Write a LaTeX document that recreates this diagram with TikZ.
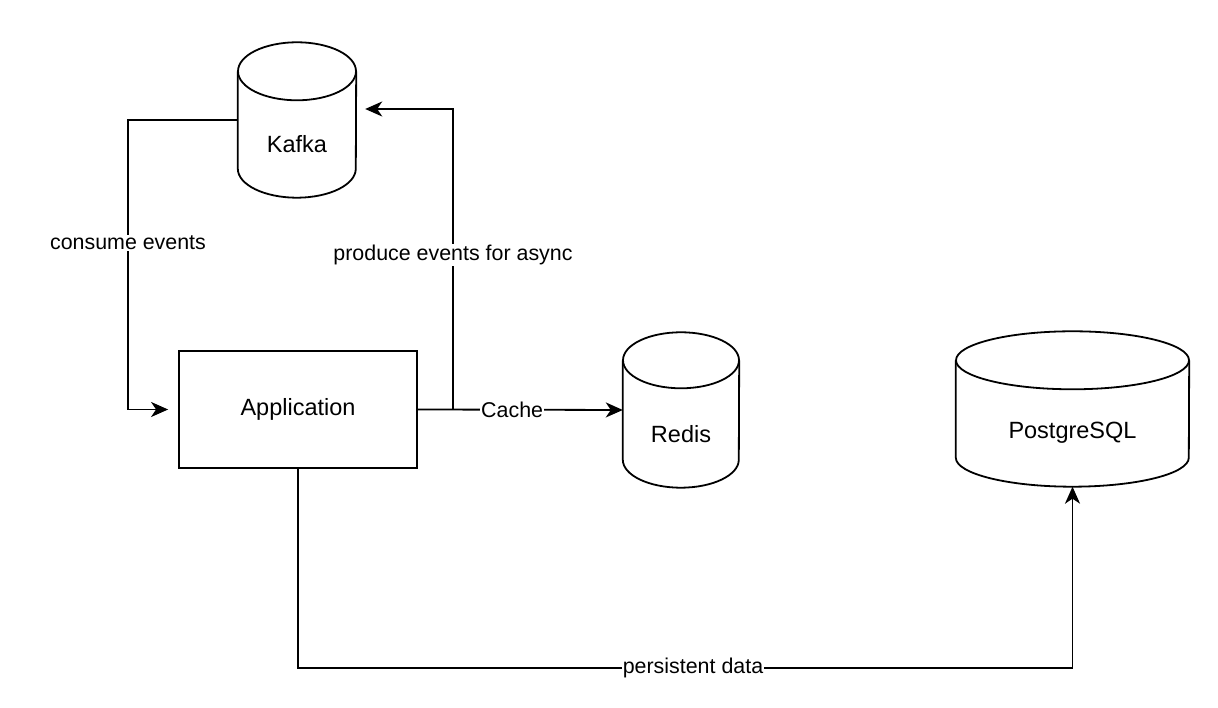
\documentclass[tikz,border=0pt]{standalone}
\usepackage{fontspec}
\setmainfont{Liberation Sans}
\usetikzlibrary{arrows.meta}

% outline of a data store round node #1 (x radius #2, y radius #3)
\newcommand{\dbdraw}[3]{%
  \draw[line width=1.8pt] ([yshift=-#3]#1.north west) -- ([yshift=#3]#1.south west)
    arc[start angle=180,end angle=360,x radius=#2,y radius=#3] -- ([yshift=-#3]#1.north east);
  \draw[line width=1.8pt] ([yshift=-#3]#1.north) ellipse[x radius=#2,y radius=#3];
}

\begin{document}
\begin{tikzpicture}[x=1pt,y=1pt,
    box/.style={draw,line width=1.8pt,minimum width=238pt,minimum height=117pt,font=\fontsize{23.5}{28}\selectfont},
    store/.style={minimum height=155pt,inner sep=0pt,label={[yshift=-24pt,font=\fontsize{23.5}{28}\selectfont]center:#1}},
    flow/.style={line width=1.8pt,-{Stealth[length=17pt,width=15pt,inset=5pt]}},
    lbl/.style={fill=white,inner sep=1pt,font=\fontsize{21.4}{26}\selectfont}]
    \path[use as bounding box,fill=white] (0,0) rectangle (1218,708);
    \node[box] (app) at (298,298.5) {Application};
    \node[store=Kafka,minimum width=118pt] (kafka) at (297,588) {};
    \node[store=Redis,minimum width=116pt] (redis) at (681,298) {};
    \node[store=PostgreSQL,minimum width=233pt] (pg) at (1072.5,299) {};
    \dbdraw{kafka}{59pt}{29pt}
    \dbdraw{redis}{58pt}{28pt}
    \dbdraw{pg}{116.5pt}{29pt}
    \coordinate (cons) at (128,465);
    \coordinate (prod) at (453,453);
    \coordinate (pers) at (693,40);
    \draw[flow] (kafka.west) -| (cons) node[lbl] {consume events} |- ([xshift=-10pt]app.west);
    \draw[flow] (app.east) -| (prod) node[lbl] {produce events for async} |- ([xshift=9pt,yshift=11pt]kafka.east);
    \draw[flow] (app.east) -- node[lbl,pos=0.46] {Cache} (redis.west);
    \draw[flow] (app.south) |- (pers) node[lbl] {persistent data} -| (pg.south);
\end{tikzpicture}
\end{document}
